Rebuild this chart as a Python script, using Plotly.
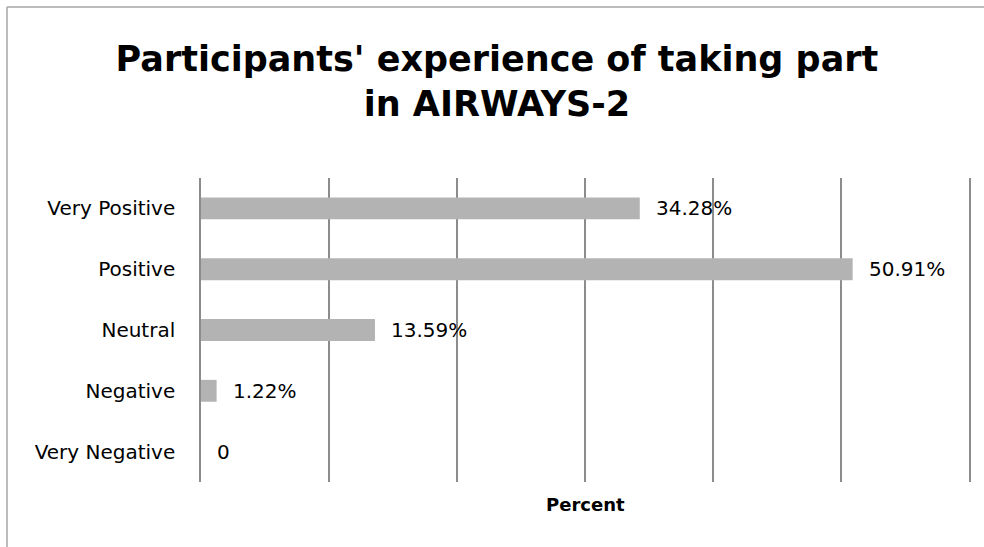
import plotly.graph_objects as go

categories = ["Very Positive", "Positive", "Neutral", "Negative", "Very Negative"]
values = [34.28, 50.91, 13.59, 1.22, 0]
labels = ["34.28%", "50.91%", "13.59%", "1.22%", "0"]

FONT = "DejaVu Sans"
fig = go.Figure()
fig.add_trace(go.Bar(
    y=categories, x=values, orientation="h",
    marker=dict(color="#b3b3b3", line=dict(width=0)),
    hoverinfo="skip",
))

annotations = []
for c, v, t in zip(categories, values, labels):
    annotations.append(dict(x=v, y=c, xref="x", yref="y", text=t, showarrow=False,
                            xanchor="left", xshift=14,
                            font=dict(family=FONT, size=20, color="#000000")))
annotations.append(dict(x=0.5, y=-22/304, xref="paper", yref="paper", yanchor="middle",
                        text="<b>Percent</b>", showarrow=False,
                        font=dict(family=FONT, size=18, color="#000000")))

fig.update_layout(
    width=984, height=547,
    margin=dict(l=201, r=15, t=178, b=65),
    paper_bgcolor="white", plot_bgcolor="white",
    showlegend=False,
    bargap=0.64,
    title=dict(text="<b>Participants' experience of taking part<br>in AIRWAYS-2</b>",
               x=0.505, xanchor="center", y=0.871, yanchor="middle",
               font=dict(family=FONT, size=35, color="#000000")),
    xaxis=dict(range=[0, 60], dtick=10, showticklabels=False, showgrid=True,
               gridcolor="#8c8c8c", gridwidth=1.5, zeroline=False, showline=False,
               fixedrange=True),
    yaxis=dict(categoryorder="array", categoryarray=categories[::-1],
               showgrid=False, zeroline=False, showline=True, mirror=True,
               linecolor="#8c8c8c", linewidth=1.5, ticks="",
               ticklabelstandoff=20,
               tickfont=dict(family=FONT, size=20, color="#000000")),
    annotations=annotations,
    shapes=[
        dict(type="line", xref="paper", yref="paper", x0=-194/768, x1=783/768,
             y0=(547-7-65)/304, y1=(547-7-65)/304, line=dict(color="#a6a6a6", width=1.5)),
        dict(type="line", xref="paper", yref="paper", x0=-194/768, x1=-194/768,
             y0=(547-7-65)/304, y1=-70/304, line=dict(color="#a6a6a6", width=1.5)),
    ],
)
fig.write_html("out.html")
